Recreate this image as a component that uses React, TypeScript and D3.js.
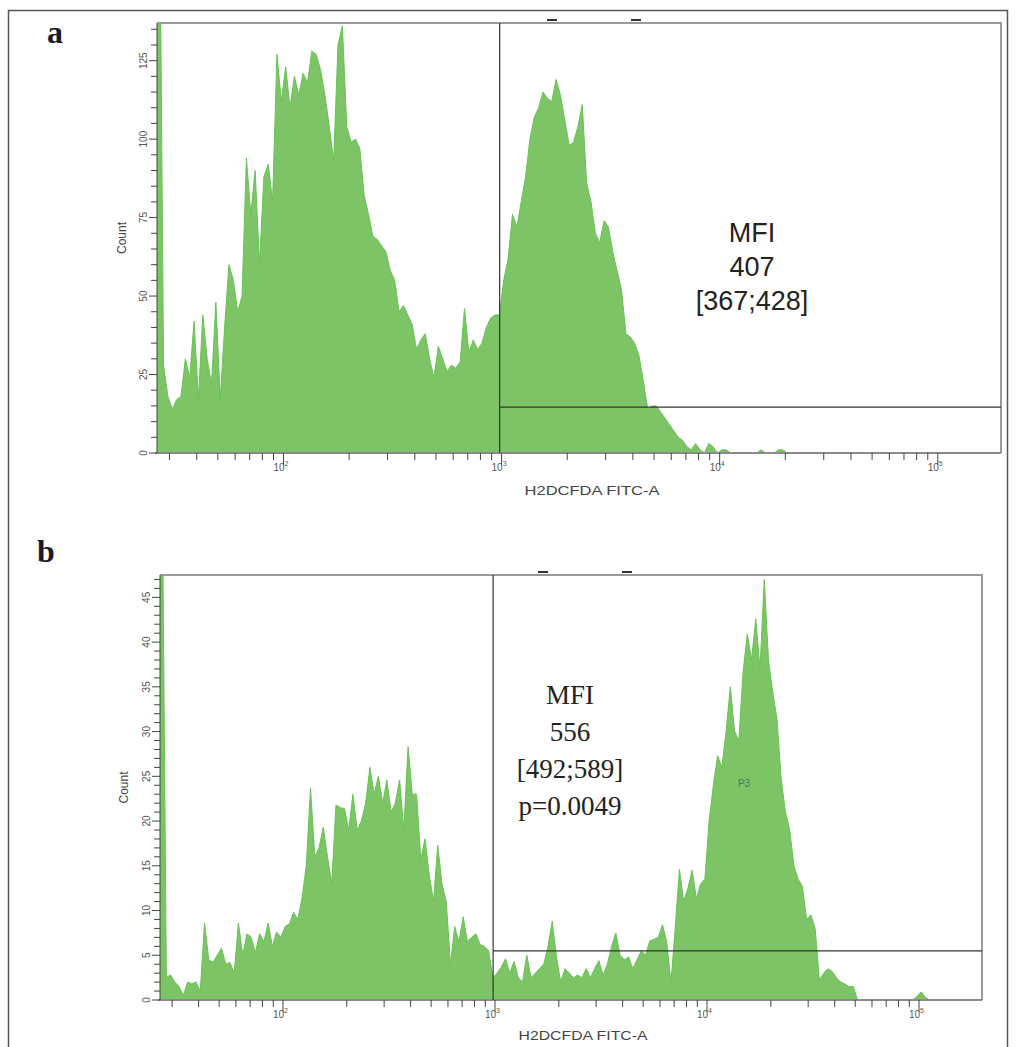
import * as d3 from "d3";
import { useEffect, useRef } from "react";

// channel layout of both histograms (log10 units)
const BIN_START = 1.42;
const BIN_WIDTH = 0.02;

// counts per channel (first channel is off-scale)
const countsA = [
  200, 28, 18, 14, 17, 18, 30, 24, 42, 17, 44, 30, 22, 48, 17, 40, 60, 55, 45, 50,
  94, 76, 90, 60, 88, 92, 80, 127, 112, 123, 110, 120, 114, 121, 118, 128, 127, 122, 114, 104,
  93, 130, 136, 104, 99, 100, 97, 82, 76, 69, 68, 66, 64, 58, 55, 45, 47, 44, 41, 33,
  36, 38, 30, 24, 34, 30, 26, 28, 27, 29, 46, 32, 36, 33, 35, 40, 43, 44, 44, 55,
  62, 76, 72, 80, 88, 100, 107, 110, 115, 113, 112, 119, 114, 106, 98, 99, 104, 111, 86, 80,
  70, 67, 74, 72, 64, 58, 52, 38, 37, 35, 31, 23, 14, 15, 15, 13, 11, 9, 7, 5,
  4, 2, 1, 3, 1, 0, 3, 2, 0, 1, 1, 0, 0, 0, 0, 0, 0, 0, 1, 0,
  0, 0, 1, 1, 0,
];

const countsB = [
  60, 2.5, 2.8, 2, 1.5, 0.5, 2, 1.8, 2, 1, 8.6, 4.5, 4.2, 5, 5.8, 4, 4.2, 3, 8.6, 5,
  7.4, 7, 5.3, 7.4, 6.5, 8.6, 6, 7.6, 7, 8.2, 8.5, 9.8, 9, 11.4, 15, 23.7, 16, 17, 19.3, 16,
  13, 21.8, 21.5, 21.4, 19, 23, 19, 20, 22, 26, 23, 25, 22, 24.6, 21, 22, 24.6, 19, 28.3, 23,
  23, 15.7, 18, 14, 11, 17.3, 13, 11, 4, 8.2, 6.5, 9.3, 6.5, 7, 7.4, 6.2, 6, 5.5, 2.5, 3,
  3.7, 4.6, 3, 4.3, 2.5, 2, 5, 2.5, 3, 3.5, 4, 6, 8.8, 4.8, 2, 3.5, 3, 2.5, 2.8, 2.5,
  3.5, 2.5, 3.5, 4.4, 2.8, 4, 6, 7.5, 5, 4.5, 4.8, 3.5, 4.5, 5.5, 5, 6.6, 6.8, 7, 8.4, 6.5,
  2, 8, 14.6, 11, 12.5, 14.5, 11.3, 13, 13.5, 20, 24, 27.3, 26, 30, 35, 30, 29, 36.6, 40.9, 38,
  42.6, 37, 47, 38, 34.4, 31.4, 24.7, 21, 19, 15, 13.5, 12.7, 9, 9.5, 8, 2.2, 3, 3.5, 3.2, 2.5,
  2, 1.8, 1.5, 1.5, 0, 0, 0, 0, 0, 0, 0, 0, 0, 0, 0, 0, 0, 0, 0.4, 0.9,
  0.3, 0,
];

const yTicksA = [0, 25, 50, 75, 100, 125];
const yTicksB = [0, 5, 10, 15, 20, 25, 30, 35, 40, 45];
const decades = [2, 3, 4, 5];
const mfiA = ["MFI", "407", "[367;428]"];
const mfiB = ["MFI", "556", "[492;589]", "p=0.0049"];
const gateA = { from: 980, level: 14.6 };
const gateB = { from: 980, level: 5.5 };

const SANS = "'Liberation Sans', Arial, sans-serif";
const SERIF = "'Liberation Serif', 'Times New Roman', serif";

const panels = [
  {
    id: "a", counts: countsA, yTicks: yTicksA, yMinor: 5, yMax: 137, gate: gateA,
    left: 157, right: 1001, top: 23, bottom: 453, logMax: 5.29,
    letterX: 47, letterY: 43, countX: 122,
    tickLabelY: 471, titleX: 592, titleY: 495, titleW: 135,
    mfi: mfiA, mfiX: 752, mfiY: 233, mfiDy: 34, mfiFont: SANS, mfiSize: 27,
    dashes: [547, 631],
  },
  {
    id: "b", counts: countsB, yTicks: yTicksB, yMinor: 1, yMax: 47.5, gate: gateB,
    left: 160, right: 982, top: 575, bottom: 1000, logMax: 5.297,
    letterX: 37, letterY: 562, countX: 124,
    tickLabelY: 1018, titleX: 583, titleY: 1040, titleW: 129,
    mfi: mfiB, mfiX: 570, mfiY: 695, mfiDy: 37, mfiFont: SERIF, mfiSize: 27,
    dashes: [538, 622], p3: { x: 744, y: 783 },
  },
];

export default function App() {
  const ref = useRef(null);

  useEffect(() => {
    const svg = d3.select(ref.current);
    svg.selectAll("*").remove();

    // outer figure border
    svg.append("rect")
      .attr("x", 8.5).attr("y", 10.5)
      .attr("width", 999).attr("height", 1100)
      .attr("fill", "none").attr("stroke", "#555").attr("stroke-width", 1.5);

    panels.forEach((p) => drawPanel(svg, p));
  }, []);

  function drawPanel(svg, p) {
    const x = d3.scaleLog()
      .domain([10 ** BIN_START, 10 ** p.logMax])
      .range([p.left, p.right]);
    const y = d3.scaleLinear().domain([0, p.yMax]).range([p.bottom, p.top]);

    const g = svg.append("g");

    const clipId = `clip-${p.id}`;
    g.append("clipPath").attr("id", clipId)
      .append("rect")
      .attr("x", p.left).attr("y", p.top)
      .attr("width", p.right - p.left).attr("height", p.bottom - p.top);

    // channel centres, plus the left edge so the off-scale channel hugs the axis
    const pts = p.counts.map((c, i) => [BIN_START + (i + 0.5) * BIN_WIDTH, c]);
    pts.unshift([BIN_START, p.counts[0]]);

    const area = d3.area()
      .x((d) => x(10 ** d[0]))
      .y0(p.bottom)
      .y1((d) => y(d[1]));

    g.append("path")
      .datum(pts)
      .attr("clip-path", `url(#${clipId})`)
      .attr("d", area)
      .attr("fill", "#7cc466")
      .attr("stroke", "#66c352")
      .attr("stroke-width", 1)
      .attr("stroke-linejoin", "round");

    // plot frame
    g.append("path")
      .attr("d", `M${p.left},${p.top}H${p.right}V${p.bottom}`)
      .attr("fill", "none").attr("stroke", "#9a9a9a").attr("stroke-width", 2);
    g.append("line")
      .attr("x1", p.left - 2).attr("x2", p.right)
      .attr("y1", p.bottom).attr("y2", p.bottom)
      .attr("stroke", "#8a8a8a").attr("stroke-width", 2);
    g.append("line")
      .attr("x1", p.left).attr("x2", p.left)
      .attr("y1", p.top).attr("y2", p.bottom)
      .attr("stroke", "#444").attr("stroke-width", 1);

    // little marks above the top border
    p.dashes.forEach((dx) => {
      g.append("line")
        .attr("x1", dx).attr("x2", dx + 10)
        .attr("y1", p.top - 3).attr("y2", p.top - 3)
        .attr("stroke", "#333").attr("stroke-width", 2);
    });

    // gates
    const gx = x(p.gate.from);
    g.append("line")
      .attr("x1", gx).attr("x2", gx)
      .attr("y1", p.top).attr("y2", p.bottom)
      .attr("stroke", "#333").attr("stroke-width", 1.2);
    g.append("line")
      .attr("x1", gx).attr("x2", p.right)
      .attr("y1", y(p.gate.level)).attr("y2", y(p.gate.level))
      .attr("stroke", "#333").attr("stroke-width", 1.2);

    // y axis ticks
    const minor = d3.range(0, p.yMax, p.yMinor);
    g.selectAll(".ytick")
      .data(minor)
      .join("line")
      .attr("x1", (d) => (p.yTicks.includes(d) ? p.left - 8 : p.left - 6))
      .attr("x2", p.left)
      .attr("y1", (d) => y(d)).attr("y2", (d) => y(d))
      .attr("stroke", "#444").attr("stroke-width", 1);

    g.selectAll(".ylab")
      .data(p.yTicks)
      .join("text")
      .attr("transform", (d) => `translate(${p.left - 14},${y(d)}) rotate(-90)`)
      .attr("text-anchor", "middle")
      .attr("dy", "0.35em")
      .style("font-family", SANS)
      .style("font-size", "10px")
      .style("fill", "#555")
      .text((d) => d);

    g.append("text")
      .attr("transform", `translate(${p.countX},${(p.top + p.bottom) / 2}) rotate(-90)`)
      .attr("text-anchor", "middle")
      .attr("dy", "0.35em")
      .style("font-family", SANS)
      .style("font-size", "12px")
      .style("fill", "#444")
      .text("Count");

    // x axis ticks (log)
    const xt = x.ticks();
    g.selectAll(".xtick")
      .data(xt)
      .join("line")
      .attr("x1", (d) => x(d)).attr("x2", (d) => x(d))
      .attr("y1", p.bottom)
      .attr("y2", (d) => (decades.some((e) => Math.abs(d - 10 ** e) < 1e-6) ? p.bottom + 12 : p.bottom + 7))
      .attr("stroke", "#444").attr("stroke-width", 1);

    const xl = g.selectAll(".xlab")
      .data(decades)
      .join("text")
      .attr("x", (d) => x(10 ** d) + 5)
      .attr("y", p.tickLabelY)
      .attr("text-anchor", "end")
      .style("font-family", SANS)
      .style("font-size", "10px")
      .style("fill", "#555");
    xl.append("tspan").text("10");
    xl.append("tspan")
      .attr("dy", -5)
      .style("font-size", "7px")
      .text((d) => d);

    g.append("text")
      .attr("x", p.titleX)
      .attr("y", p.titleY)
      .attr("text-anchor", "middle")
      .attr("textLength", p.titleW)
      .attr("lengthAdjust", "spacingAndGlyphs")
      .style("font-family", SANS)
      .style("font-size", "13px")
      .style("fill", "#444")
      .text("H2DCFDA FITC-A");

    // panel letter
    g.append("text")
      .attr("x", p.letterX)
      .attr("y", p.letterY)
      .style("font-family", SERIF)
      .style("font-weight", "700")
      .style("font-size", "32px")
      .style("fill", "#1a1a2a")
      .text(p.id);

    // MFI annotation
    g.selectAll(".mfi")
      .data(p.mfi)
      .join("text")
      .attr("x", p.mfiX)
      .attr("y", (d, i) => p.mfiY + i * p.mfiDy)
      .attr("text-anchor", "middle")
      .attr("dy", "0.35em")
      .style("font-family", p.mfiFont)
      .style("font-size", `${p.mfiSize}px`)
      .style("fill", "#222")
      .text((d) => d);

    if (p.p3) {
      g.append("text")
        .attr("x", p.p3.x)
        .attr("y", p.p3.y)
        .attr("text-anchor", "middle")
        .attr("dy", "0.35em")
        .style("font-family", SANS)
        .style("font-size", "10px")
        .style("fill", "#3b7d66")
        .text("P3");
    }
  }

  return (
    <svg
      ref={ref}
      width={1016}
      height={1047}
      style={{ position: "absolute", left: 0, top: 0, background: "#fff" }}
    />
  );
}
